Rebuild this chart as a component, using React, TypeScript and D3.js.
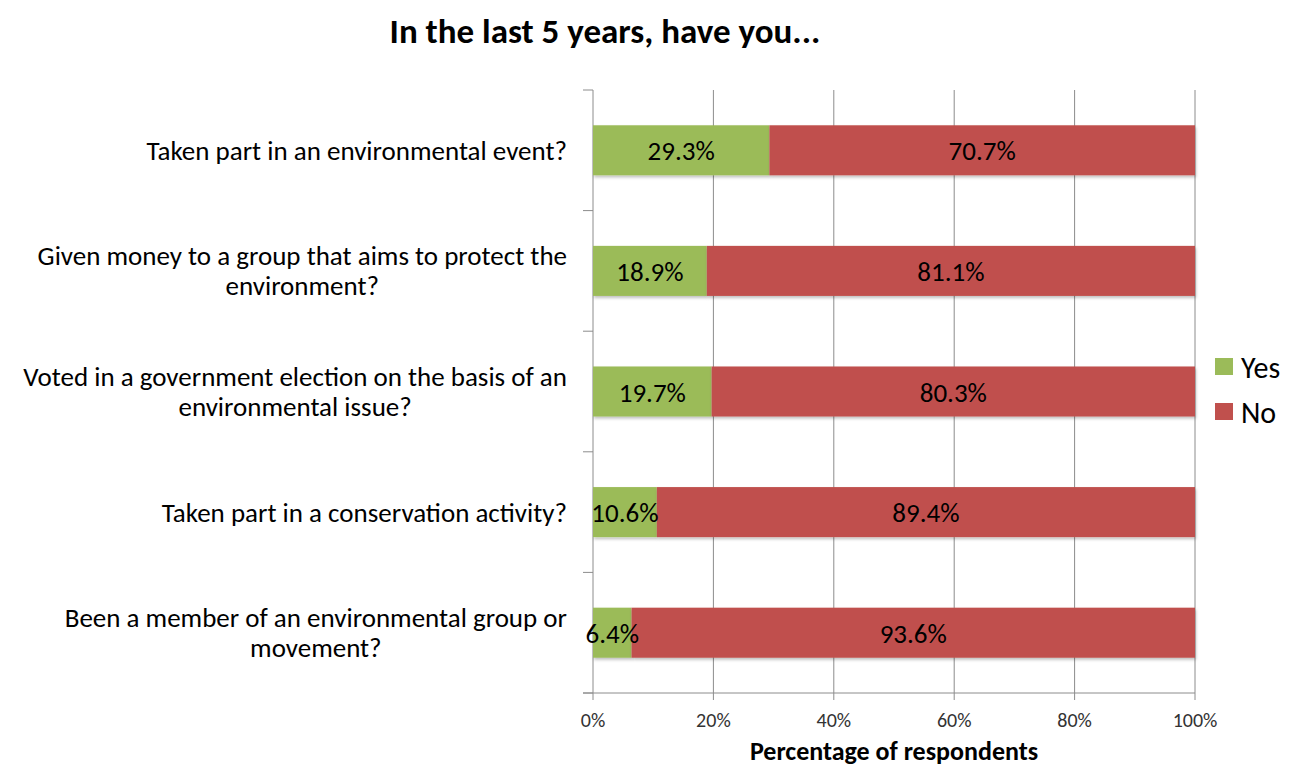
import React from "react";
import * as d3 from "d3";

const categories: string[][] = [
  ["Taken part in an environmental event?"],
  ["Given money to a group that aims to protect the", "environment?"],
  ["Voted in a government election on the basis of an", "environmental issue?"],
  ["Taken part in a conservation activity?"],
  ["Been a member of an environmental group or", "movement?"],
];
const yesValues = [29.3, 18.9, 19.7, 10.6, 6.4];
const noValues = [70.7, 81.1, 80.3, 89.4, 93.6];
const xTicks = [0, 20, 40, 60, 80, 100];
const seriesNames = ["Yes", "No"];
const seriesColors = ["#9BBB59", "#C0504D"];

const FONT = "Carlito, Calibri, Lato, 'Open Sans', sans-serif";
const CAT_SIZE = 27;

function measure(txt: string, size: number): number {
  try {
    const c = document.createElement("canvas").getContext("2d")!;
    c.font = `${size}px ${FONT}`;
    return c.measureText(txt).width;
  } catch (e) {
    return txt.length * size * 0.5;
  }
}

export default function App() {
  const W = 1294, H = 767;
  const left = 593, right = 1195, top = 90, bottom = 693;
  const labelRight = 567;
  const x = d3.scaleLinear().domain([0, 100]).range([left, right]);
  const idx = categories.map((_, i) => i);
  const y = d3.scaleBand<number>().domain(idx).range([top, bottom]).paddingInner(0.585).paddingOuter(0.2925);
  const band = (bottom - top) / categories.length;
  const boundaries = d3.range(categories.length + 1).map((i) => top + i * band);
  const stack = idx.map((i) => [
    { s: 0, x0: 0, x1: yesValues[i], v: yesValues[i] },
    { s: 1, x0: yesValues[i], x1: yesValues[i] + noValues[i], v: noValues[i] },
  ]);
  const gridColor = "#8c8c8c";
  return (
    <svg width={W} height={H} style={{ position: "absolute", left: 0, top: 0, background: "#fff" }} fontFamily={FONT}>
      <defs>
        <filter id="sh" x="-5%" y="-20%" width="110%" height="150%">
          <feDropShadow dx="1" dy="2" stdDeviation="1.5" floodColor="#000" floodOpacity="0.25" />
        </filter>
      </defs>
      <rect width={W} height={H} fill="#fff" />
      <text x={605} y={43} textAnchor="middle" fontSize={35} fontWeight="bold" fill="#000">
        In the last 5 years, have you...
      </text>
      {xTicks.slice(1).map((t) => (
        <line key={"g" + t} x1={x(t)} x2={x(t)} y1={top} y2={bottom} stroke={gridColor} strokeWidth={1} />
      ))}
      <line x1={left} x2={left} y1={top} y2={bottom} stroke={gridColor} />
      {boundaries.map((b, i) => (
        <line key={"yt" + i} x1={left - 10} x2={left} y1={b} y2={b} stroke={gridColor} />
      ))}
      <line x1={left - 10} x2={right} y1={bottom} y2={bottom} stroke={gridColor} />
      {xTicks.map((t) => (
        <g key={"xt" + t}>
          <line x1={x(t)} x2={x(t)} y1={bottom} y2={bottom + 7} stroke={gridColor} />
          <text x={x(t)} y={727} textAnchor="middle" fontSize={20} fill="#333">
            {t}%
          </text>
        </g>
      ))}
      <text x={894} y={760} textAnchor="middle" fontSize={26} fontWeight="bold" fill="#000">
        Percentage of respondents
      </text>
      {stack.map((segs, i) => (
        <g key={"bar" + i}>
          {segs.map((sg) => (
            <rect key={sg.s} x={x(sg.x0)} y={y(i)!} width={x(sg.x1) - x(sg.x0)} height={y.bandwidth()} fill={seriesColors[sg.s]} filter="url(#sh)" />
          ))}
          {segs.map((sg) => (
            <text key={"l" + sg.s} x={(x(sg.x0) + x(sg.x1)) / 2} y={y(i)! + y.bandwidth() / 2 + 10} textAnchor="middle" fontSize={27} fill="#000">
              {sg.v.toFixed(1)}%
            </text>
          ))}
        </g>
      ))}
      {categories.map((lines, i) => {
        const cy = y(i)! + y.bandwidth() / 2;
        const lh = 30;
        const start = cy - ((lines.length - 1) * lh) / 2 + 9.5;
        const maxW = Math.max(...lines.map((l) => measure(l, CAT_SIZE)));
        const cx = labelRight - maxW / 2;
        return (
          <text key={"c" + i} textAnchor="middle" fontSize={CAT_SIZE} fill="#000">
            {lines.map((ln, j) => (
              <tspan key={j} x={cx} y={start + j * lh}>
                {ln}
              </tspan>
            ))}
          </text>
        );
      })}
      {seriesNames.map((n, i) => (
        <g key={"lg" + n}>
          <rect x={1215} y={358 + i * 45} width={18} height={17} fill={seriesColors[i]} />
          <text x={1241} y={378 + i * 45} fontSize={30} fill="#000">
            {n}
          </text>
        </g>
      ))}
    </svg>
  );
}
